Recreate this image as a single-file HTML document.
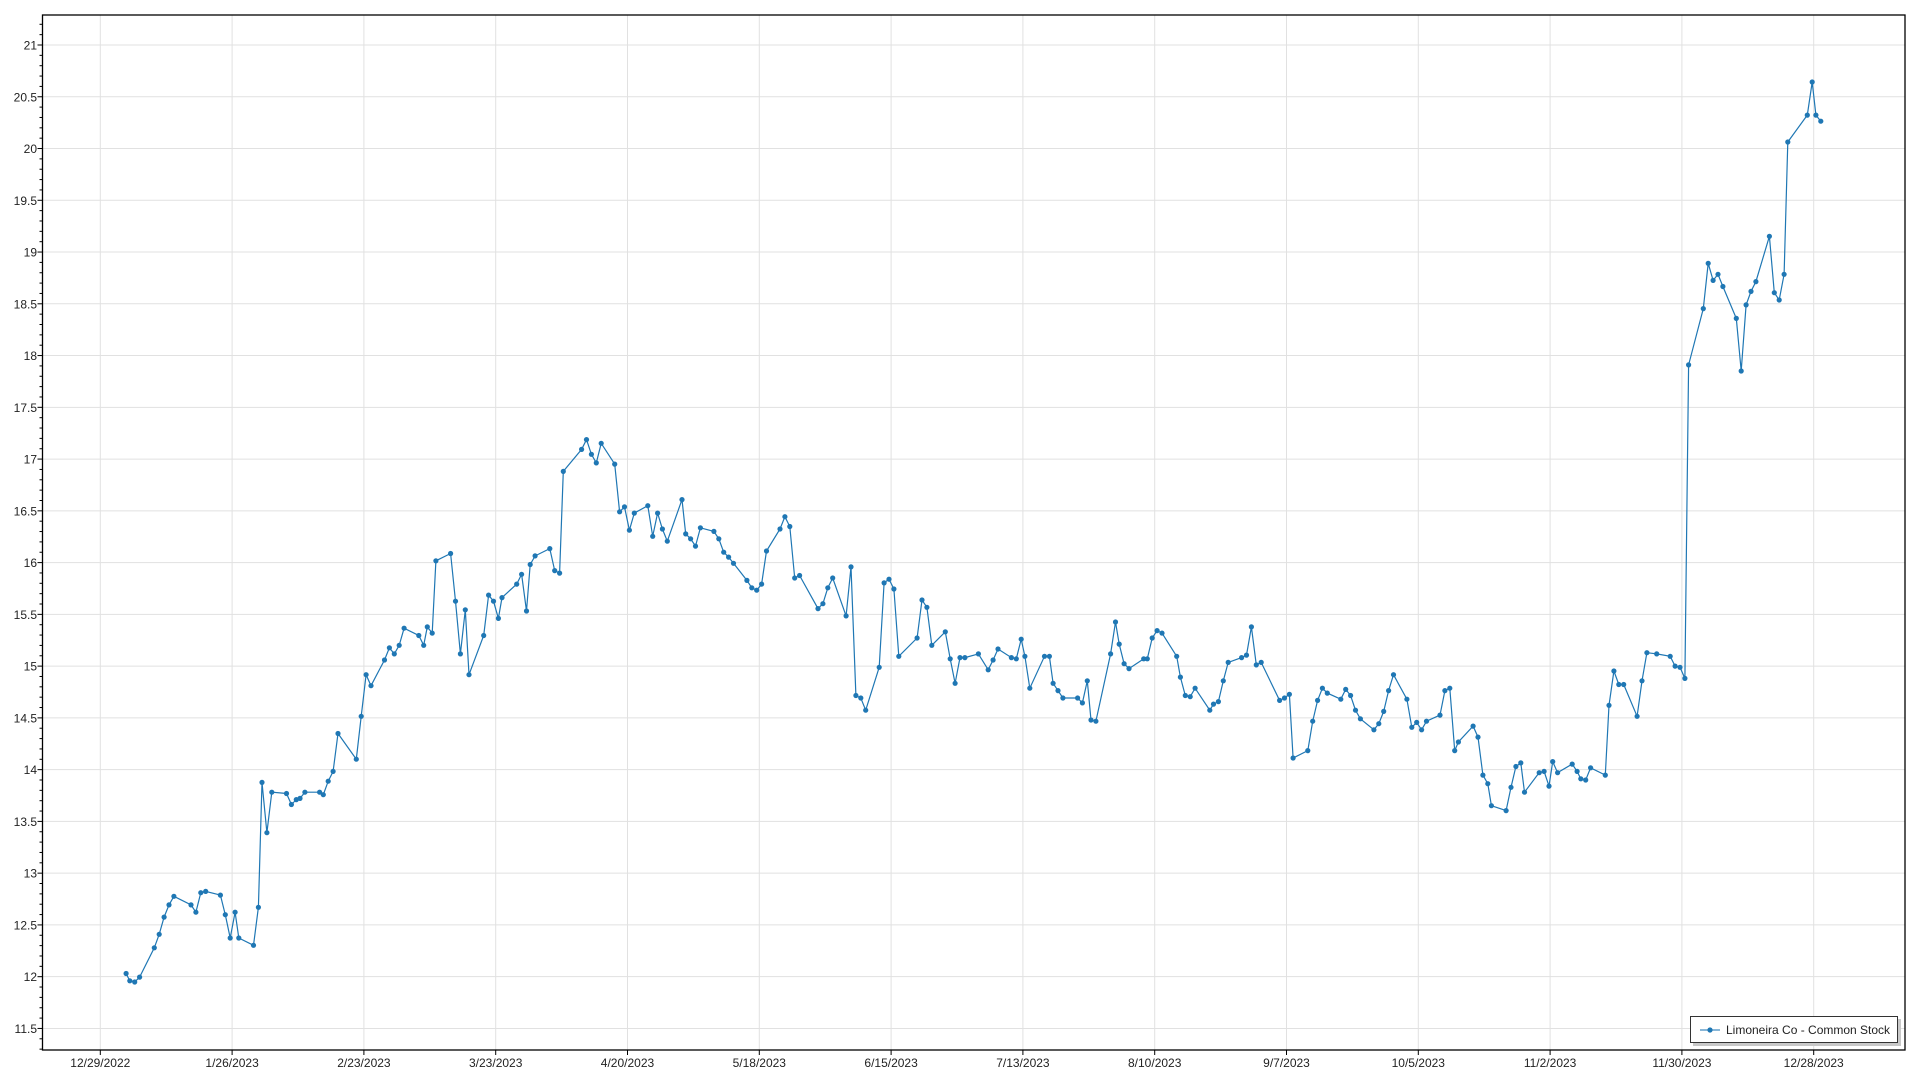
<!DOCTYPE html>
<html><head><meta charset="utf-8"><style>
html,body{margin:0;padding:0;background:#fff;}
svg{display:block;font-family:"Liberation Sans",sans-serif;}
</style></head><body>
<svg id="c" width="1920" height="1080" xmlns="http://www.w3.org/2000/svg"></svg>
<script>
const s=document.getElementById('c');const NS='http://www.w3.org/2000/svg';
function el(t,a,txt){const e=document.createElementNS(NS,t);for(const k in a)e.setAttribute(k,a[k]);if(txt!=null)e.textContent=txt;s.appendChild(e);return e;}
const L=42.5,T=15,R=1905,B=1050;
const yv=v=>45+(21-v)*103.52;
// grid
for(let k=0;k<14;k++){const x=100.3+k*131.8;el('line',{x1:x,y1:T,x2:x,y2:B,stroke:'#e1e1e1','stroke-width':1});}
for(let v=11.5;v<=21.001;v+=0.5){const y=yv(v);el('line',{x1:L,y1:y,x2:R,y2:y,stroke:'#e1e1e1','stroke-width':1});
 el('text',{x:37,y:y+4.5,'text-anchor':'end','font-size':12,fill:'#222'},String(Math.round(v*10)/10));}
for(let i=112;i<=213;i++){const v=i/10,y=yv(v);if(y<T||y>B)continue;const maj=i%5==0;el('line',{x1:L-(maj?5:3),y1:y,x2:L,y2:y,stroke:'#000','stroke-width':1});}
const labs=['12/29/2022','1/26/2023','2/23/2023','3/23/2023','4/20/2023','5/18/2023','6/15/2023','7/13/2023','8/10/2023','9/7/2023','10/5/2023','11/2/2023','11/30/2023','12/28/2023'];
labs.forEach((t,k)=>{const x=100.3+k*131.8;el('line',{x1:x,y1:B,x2:x,y2:B+5,stroke:'#000'});el('text',{x:x,y:B+17,'text-anchor':'middle','font-size':12,fill:'#222'},t);});
el('rect',{x:L,y:T,width:R-L,height:B-T,fill:'none',stroke:'#000','stroke-width':1.3});
const d=[103,795,106,801,110,802,114,798,126,774,130,763,134,749,138,739,142,732,156,739,160,745,164,729,168,728,180,731,184,747,188,766,192,745,195,766,207,772,211,741,214,639,218,680,222,647,234,648,238,657,242,653,245,652,249,647,261,647,264,649,268,638,272,630,276,599,291,620,295,585,299,551,303,560,314,539,318,529,322,534,326,527,330,513,342,519,346,527,349,512,353,517,356,458,368,452,372,491,376,534,380,498,383,551,395,519,399,486,403,491,407,505,410,488,422,477,426,469,430,499,433,461,437,454,449,448,453,466,457,468,460,385,475,367,479,359,483,371,487,378,491,362,502,379,506,418,510,414,514,433,518,419,529,413,533,438,537,419,541,432,545,442,557,408,560,436,564,440,568,446,572,431,583,434,587,440,591,451,595,455,599,460,610,474,614,480,618,482,622,477,626,450,637,432,641,422,645,430,649,472,653,470,668,497,672,493,676,480,680,472,691,503,695,463,699,568,703,570,707,580,718,545,722,476,726,473,730,481,734,536,749,521,753,490,757,496,761,527,772,516,776,538,780,558,784,537,788,537,799,534,807,547,811,539,815,530,826,537,830,538,834,522,837,536,841,562,853,536,857,536,860,558,864,564,868,570,880,570,884,574,888,556,891,588,895,589,907,534,911,508,914,526,918,542,922,546,934,538,937,538,941,521,945,515,949,517,961,536,964,553,968,568,972,569,976,562,988,580,991,575,995,573,999,556,1003,541,1014,537,1018,535,1022,512,1026,543,1030,541,1045,572,1049,570,1053,567,1056,619,1068,613,1072,589,1076,572,1080,562,1084,566,1095,571,1099,563,1103,568,1107,580,1111,587,1122,596,1126,591,1130,581,1134,564,1138,551,1149,571,1153,594,1157,590,1161,596,1165,589,1176,584,1180,564,1184,562,1188,613,1191,606,1203,593,1207,602,1211,633,1215,640,1218,658,1230,662,1234,643,1238,626,1242,623,1245,647,1257,631,1261,630,1265,642,1268,622,1272,631,1284,624,1288,630,1291,636,1295,637,1299,627,1311,633,1314,576,1318,548,1322,559,1326,559,1337,585,1341,556,1345,533,1353,534,1364,536,1368,544,1372,545,1376,554,1379,298,1391,252,1395,215,1399,229,1403,224,1407,234,1418,260,1422,303,1426,249,1430,238,1434,230,1445,193,1449,239,1453,245,1457,224,1460,116,1476,94,1480,67,1483,94,1487,99];
const f=1920/1568;let pts=[];for(let i=0;i<d.length;i+=2)pts.push([(d[i]*f).toFixed(1),(d[i+1]*f).toFixed(1)]);
el('polyline',{points:pts.map(p=>p.join(',')).join(' '),fill:'none',stroke:'#1f77b4','stroke-width':1.2});
pts.forEach(p=>el('circle',{cx:p[0],cy:p[1],r:2.6,fill:'#1f77b4'}));
// legend
el('rect',{x:1693,y:1019,width:208,height:27,fill:'#c8c8c8'});
el('rect',{x:1690.5,y:1016.5,width:207,height:26,fill:'#fff',stroke:'#333','stroke-width':1});
el('line',{x1:1700,y1:1030,x2:1720,y2:1030,stroke:'#1f77b4','stroke-width':1.5,opacity:0.7});
el('circle',{cx:1710,cy:1030,r:2.6,fill:'#1f77b4'});
el('text',{x:1726,y:1034,'font-size':12,fill:'#222'},'Limoneira Co - Common Stock');
</script>
</body></html>
